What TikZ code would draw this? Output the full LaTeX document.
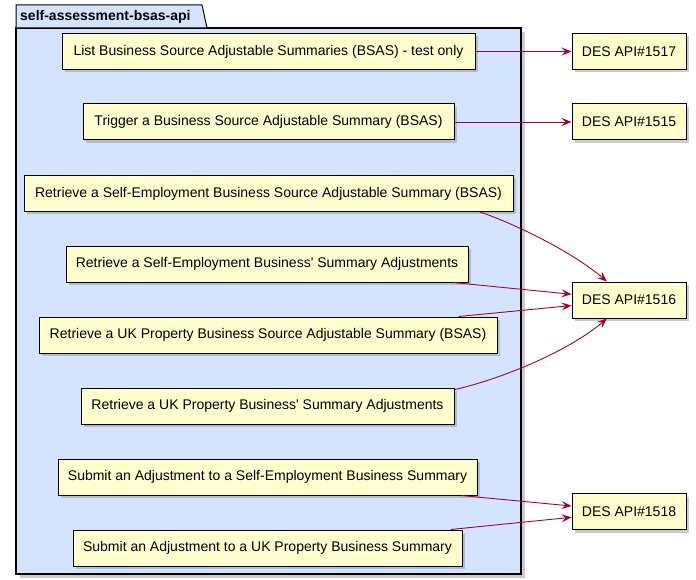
\documentclass[tikz,border=0pt]{standalone}
\usepackage{fontspec}
\newfontfamily\umlfont{Liberation Sans}
\usetikzlibrary{arrows.meta,shadows}
\definecolor{notefill}{HTML}{FEFECE}
\definecolor{pkgfill}{HTML}{D4E4FF}
\definecolor{linkred}{HTML}{A80036}

\begin{document}
\begin{tikzpicture}[x=1pt, y=-1pt,
    box/.style={draw, line width=1pt, fill=notefill, minimum height=36pt, inner sep=0pt,
      font=\umlfont\fontsize{14}{16}\selectfont,
      drop shadow={shadow xshift=3pt, shadow yshift=-3pt, opacity=0.4}},
    link/.style={linkred, line width=0.9pt, -{Stealth[length=10pt,width=8pt,inset=4pt]}}]
  \useasboundingbox (0,0) rectangle (696,580);

  % The package frame and its tab
  \draw[line width=1.5pt, fill=pkgfill, drop shadow={shadow xshift=4pt, shadow yshift=-4pt, opacity=0.4}]
    (16,28) rectangle (521,574);
  \draw[line width=1pt, fill=pkgfill] (16,28) -- (16,5) -- (202,5) -- (207,28) -- cycle;
  \node[anchor=west, inner sep=0pt, font=\umlfont\bfseries\fontsize{14}{16}\selectfont] (pkg) at (20,17) {self-assessment-bsas-api};

  % The endpoints inside the package
  \node[box, minimum width=413pt] (list) at (268.5,51.5) {List Business Source Adjustable Summaries (BSAS) - test only};
  \node[box, minimum width=371pt] (trigger) at (268.5,122) {Trigger a Business Source Adjustable Summary (BSAS)};
  \node[box, minimum width=489pt] (sebsas) at (268.5,193.5) {Retrieve a Self-Employment Business Source Adjustable Summary (BSAS)};
  \node[box, minimum width=402pt] (seadj) at (267,264) {Retrieve a Self-Employment Business' Summary Adjustments};
  \node[box, minimum width=458pt] (ukbsas) at (268,335) {Retrieve a UK Property Business Source Adjustable Summary (BSAS)};
  \node[box, minimum width=373pt] (ukadj) at (267.5,406) {Retrieve a UK Property Business' Summary Adjustments};
  \node[box, minimum width=419pt] (sesubmit) at (267.5,477) {Submit an Adjustment to a Self-Employment Business Summary};
  \node[box, minimum width=389pt] (uksubmit) at (267.5,548) {Submit an Adjustment to a UK Property Business Summary};

  % The DES APIs
  \node[box, minimum width=114pt] (des1517) at (629,51.5) {DES API\#1517};
  \node[box, minimum width=114pt] (des1515) at (629,122) {DES API\#1515};
  \node[box, minimum width=114pt] (des1516) at (629,300) {DES API\#1516};
  \node[box, minimum width=114pt] (des1518) at (629,511.5) {DES API\#1518};

  % The links
  \draw[link] (list) -- (des1517);
  \draw[link] (trigger) -- (des1515);
  \draw[link] (sebsas.-5.3) .. controls (510,222) and (570,250) .. (des1516.140.7);
  \draw[link] (seadj) -- (des1516);
  \draw[link] (ukbsas) -- (des1516);
  \draw[link] (ukadj.5.5) .. controls (505,378) and (570,350) .. (des1516.-140.7);
  \draw[link] (sesubmit) -- (des1518);
  \draw[link] (uksubmit) -- (des1518);
\end{tikzpicture}
\end{document}
